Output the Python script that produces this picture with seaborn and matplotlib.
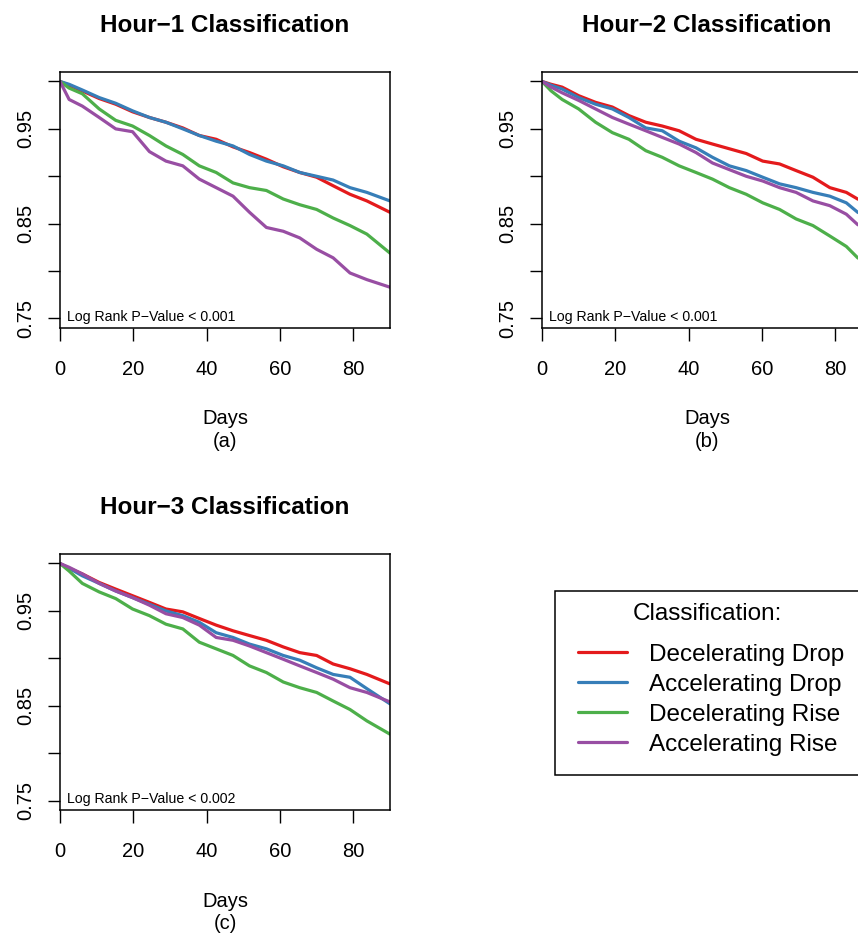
import matplotlib
matplotlib.use("Agg")
import matplotlib.pyplot as plt
from matplotlib.patches import Rectangle
import pandas as pd
import seaborn as sns

groups = ["Decelerating Drop", "Accelerating Drop", "Decelerating Rise", "Accelerating Rise"]
colors = ["#E41A1C", "#377EB8", "#4DAF4A", "#984EA3"]

days_ac = [0, 2.5, 6.1, 10.7, 15.2, 19.8, 24.4, 28.9, 33.5, 38.0, 42.6,
           47.2, 51.7, 56.3, 60.9, 65.4, 70.0, 74.5, 79.1, 83.7, 90]
# panel b
days_b = [0, 2.5, 5.5, 10.0, 14.6, 19.2, 23.7, 28.3, 32.8, 37.4, 42.0,
          46.5, 51.1, 55.7, 60.2, 64.8, 69.3, 73.9, 78.5, 83.0, 86.1, 90]

# Hour-1
surv_a_dec_drop = [1.0, 0.996, 0.990, 0.982, 0.976, 0.968, 0.962, 0.957, 0.951, 0.943, 0.939,
                   0.931, 0.925, 0.918, 0.910, 0.904, 0.899, 0.890, 0.881, 0.874, 0.862]
surv_a_acc_drop = [1.0, 0.997, 0.991, 0.983, 0.977, 0.969, 0.962, 0.957, 0.950, 0.943, 0.937,
                   0.932, 0.923, 0.916, 0.911, 0.904, 0.900, 0.896, 0.888, 0.883, 0.874]
surv_a_dec_rise = [1.0, 0.993, 0.987, 0.971, 0.959, 0.953, 0.943, 0.932, 0.923, 0.911, 0.904,
                   0.893, 0.888, 0.885, 0.876, 0.870, 0.865, 0.856, 0.848, 0.839, 0.819]
surv_a_acc_rise = [1.0, 0.981, 0.974, 0.962, 0.950, 0.947, 0.926, 0.916, 0.911, 0.897, 0.888,
                   0.879, 0.862, 0.846, 0.842, 0.835, 0.823, 0.814, 0.798, 0.791, 0.783]

# Hour-2
surv_b_dec_drop = [1.0, 0.997, 0.994, 0.985, 0.978, 0.973, 0.964, 0.957, 0.953, 0.948, 0.939,
                   0.934, 0.929, 0.924, 0.916, 0.913, 0.906, 0.899, 0.888, 0.883, 0.876, 0.872]
surv_b_acc_drop = [1.0, 0.996, 0.992, 0.983, 0.976, 0.971, 0.962, 0.951, 0.948, 0.937, 0.930,
                   0.920, 0.911, 0.906, 0.899, 0.892, 0.888, 0.883, 0.879, 0.872, 0.862, 0.856]
surv_b_dec_rise = [1.0, 0.990, 0.981, 0.971, 0.957, 0.946, 0.939, 0.927, 0.920, 0.911, 0.904,
                   0.897, 0.888, 0.881, 0.872, 0.865, 0.855, 0.848, 0.837, 0.826, 0.814, 0.806]
surv_b_acc_rise = [1.0, 0.994, 0.988, 0.980, 0.971, 0.962, 0.955, 0.948, 0.941, 0.934, 0.925,
                   0.914, 0.907, 0.900, 0.895, 0.888, 0.883, 0.874, 0.869, 0.860, 0.849, 0.843]

# Hour-3
surv_c_dec_drop = [1.0, 0.995, 0.989, 0.980, 0.973, 0.966, 0.959, 0.952, 0.949, 0.942, 0.935,
                   0.929, 0.924, 0.919, 0.912, 0.906, 0.903, 0.894, 0.889, 0.883, 0.873]
surv_c_acc_drop = [1.0, 0.995, 0.987, 0.979, 0.971, 0.964, 0.957, 0.950, 0.945, 0.938, 0.927,
                   0.922, 0.915, 0.910, 0.903, 0.898, 0.890, 0.883, 0.880, 0.868, 0.852]
surv_c_dec_rise = [1.0, 0.992, 0.979, 0.970, 0.963, 0.952, 0.945, 0.936, 0.931, 0.917, 0.910,
                   0.903, 0.892, 0.885, 0.875, 0.869, 0.864, 0.855, 0.846, 0.834, 0.820]
surv_c_acc_rise = [1.0, 0.996, 0.989, 0.979, 0.971, 0.964, 0.956, 0.947, 0.943, 0.935, 0.922,
                   0.919, 0.913, 0.906, 0.899, 0.892, 0.885, 0.878, 0.869, 0.864, 0.854]

titles = ["Hour\u22121 Classification", "Hour\u22122 Classification", "Hour\u22123 Classification"]
sublabels = ["(a)", "(b)", "(c)"]
pvalues = ["Log Rank P\u2212Value < 0.001", "Log Rank P\u2212Value < 0.001", "Log Rank P\u2212Value < 0.002"]


def build_panel_df(days, curves):
    frames = []
    for name, values in zip(groups, curves):
        frames.append(pd.DataFrame({"day": days, "surv": values, "group": name}))
    return pd.concat(frames, ignore_index=True)


panels = [
    build_panel_df(days_ac, [surv_a_dec_drop, surv_a_acc_drop, surv_a_dec_rise, surv_a_acc_rise]),
    build_panel_df(days_b, [surv_b_dec_drop, surv_b_acc_drop, surv_b_dec_rise, surv_b_acc_rise]),
    build_panel_df(days_ac, [surv_c_dec_drop, surv_c_acc_drop, surv_c_dec_rise, surv_c_acc_rise]),
]

sns.set_theme(style="ticks")
plt.rcParams["font.family"] = ["Liberation Sans", "DejaVu Sans"]
plt.rcParams["text.color"] = "black"
plt.rcParams["axes.labelcolor"] = "black"
plt.rcParams["axes.linewidth"] = 1.1
plt.rcParams["xtick.major.width"] = 1.0
plt.rcParams["ytick.major.width"] = 1.0
plt.rcParams["xtick.major.size"] = 9
plt.rcParams["ytick.major.size"] = 9

fig = plt.figure(figsize=(8.58, 9.36), dpi=100)
w, h = 0.3846, 0.2735
positions = [(0.0699, 0.6496), (0.6317, 0.6496), (0.0699, 0.1346)]

axes = []
for i, df in enumerate(panels):
    ax = fig.add_axes([positions[i][0], positions[i][1], w, h])
    sns.lineplot(data=df, x="day", y="surv", hue="group", hue_order=groups,
                 palette=colors, estimator=None, linewidth=2.3, legend=False, ax=ax)
    ax.set_xlim(0, 90)
    ax.set_ylim(0.74, 1.01)
    ax.set_xticks([0, 20, 40, 60, 80])
    ax.set_yticks([0.75, 0.80, 0.85, 0.90, 0.95, 1.00])
    ax.set_yticklabels(["0.75", "", "0.85", "", "0.95", ""], rotation=90, va="center")
    ax.tick_params(axis="both", labelsize=14.5, colors="black", direction="out")
    ax.tick_params(axis="x", pad=14)
    ax.tick_params(axis="y", pad=9)
    ax.set_xlabel("Days\n" + sublabels[i], fontsize=14.5, labelpad=22, linespacing=1.25)
    ax.set_ylabel("")
    ax.set_title(titles[i], fontsize=17.5, fontweight="bold", pad=29)
    for spine in ax.spines.values():
        spine.set_color("black")
    ax.text(0.02, 0.043, pvalues[i], transform=ax.transAxes, fontsize=10.2,
            ha="left", va="center")
    axes.append(ax)

# legend box, title and entries
fig.add_artist(Rectangle((0.6469, 0.1720), 0.4, 0.1966, transform=fig.transFigure,
                         facecolor="white", edgecolor="black", linewidth=1.1))
fig.text(0.8246, 0.3440, "Classification:", fontsize=17.5, ha="center", va="center")
handles = axes[0].get_lines()[:4]
leg = fig.legend(handles, groups, loc="upper left", bbox_to_anchor=(0.6737, 0.3125),
                 fontsize=17.5, frameon=False, handlelength=2.0, handletextpad=0.9,
                 labelspacing=0.33, borderpad=0, borderaxespad=0)
for line in leg.get_lines():
    line.set_linewidth(2.3)

fig.savefig("out.png", dpi=100)
